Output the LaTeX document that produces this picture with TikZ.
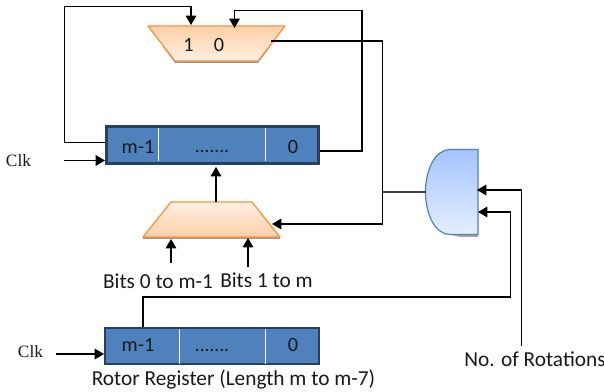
\documentclass[tikz,border=0pt]{standalone}
\usepackage{fontspec}
\setmainfont{Carlito}
\newfontfamily\clkfont{Liberation Serif}
\usetikzlibrary{arrows.meta}
\definecolor{regfill}{HTML}{4F81BD}
\definecolor{regedge}{HTML}{254061}
\definecolor{muxedge}{HTML}{F79646}
\definecolor{muxdark}{HTML}{FCCFA6}
\definecolor{muxlight}{HTML}{FFF0E3}
\definecolor{gateedge}{HTML}{4F81BD}
\definecolor{gatetop}{HTML}{A3C4FF}
\definecolor{gatebot}{HTML}{E5EEFF}
\tikzset{
 regbox/.style={draw=regedge,line width=2.2pt,fill=regfill,inner sep=0pt},
 muxshape/.style={draw=muxedge,line width=1pt,line join=round},
 wire/.style={draw=black,line width=0.8pt},
 arrowwire/.style={wire,-{Triangle[length=7pt,width=8pt]}},
 divider/.style={draw=white,line width=0.7pt},
 reglabel/.style={font=\fontsize{15.2}{17}\selectfont,inner sep=0pt,text=black!90},
 dotlabel/.style={font=\fontsize{14.5}{17}\selectfont,inner sep=0pt,text=black!90},
 caption/.style={font=\fontsize{16}{18}\selectfont,inner sep=0pt,text=black!90},
 clklabel/.style={font=\clkfont\fontsize{13}{15}\selectfont,inner sep=0pt,text=black!90},
}
\begin{document}
\begin{tikzpicture}[x=0.75pt,y=-0.75pt]
\useasboundingbox (0,0) rectangle (604,392);
% shadows
\fill[black!40] (175,63) -- (258,63) -- (270,47) -- (163,47) -- cycle;
\fill[black!40] (143,239) -- (280,239) -- (280,236) -- (143,236) -- cycle;
\fill[black!35] (431,190) .. controls (431,225) and (448,237) .. (462,237) -- (478,237) -- (478,200) -- cycle;
% multiplexers
\path[muxshape,top color=muxdark,bottom color=muxlight] (148,26) -- (285,26) -- (258,61) -- (175,61) -- cycle;
\path[muxshape,top color=muxlight,bottom color=muxdark] (171,202) -- (252,202) -- (280,237) -- (143,237) -- cycle;
\node[reglabel] (muxone) at (188.5,45) {1};
\node[reglabel] (muxzero) at (219,45) {0};
% registers
\node[regbox,minimum width=159.5pt,minimum height=28pt] (regmain) at (212.5,145.2) {};
\node[regbox,minimum width=160.5pt,minimum height=27pt] (regrotor) at (212,346) {};
\draw[divider] (158.5,128) -- (158.5,161);
\draw[divider] (265,128) -- (265,161);
\draw[divider] (179,329) -- (179,364);
\draw[divider] (265,329) -- (265,364);
\node[reglabel] (mainhigh) at (138,146.5) {m-1};
\node[dotlabel] (maindots) at (212,151.5) {.......};
\node[reglabel] (mainlow) at (293,146.5) {0};
\node[reglabel] (rotorhigh) at (138,345) {m-1};
\node[dotlabel] (rotordots) at (212,350.5) {.......};
\node[reglabel] (rotorlow) at (293,345) {0};
% gate
\path[draw=gateedge,line width=0.9pt,top color=gatetop,bottom color=gatebot]
  (478,149.5) -- (450,149.5) .. controls (435,149.5) and (425.5,170) .. (425.5,192)
  .. controls (425.5,214) and (435,234.5) .. (450,234.5) -- (478,234.5) -- cycle;
\coordinate (gatein) at (425.5,192);
\coordinate (gateupper) at (477,190);
\coordinate (gatelower) at (478,212);
% labels
\node[clklabel] (clkone) at (18.5,161) {Clk};
\node[clklabel] (clktwo) at (30.5,351.5) {Clk};
\node[caption] (bitslow) at (158,281) {Bits 0 to m-1};
\node[caption] (bitshigh) at (266.5,280) {Bits 1 to m};
\node[caption] (rotorname) at (233.5,380) {Rotor Register (Length m to m-7)};
\node[caption] (rotations) at (535,359) {No. of Rotations};
% ports
\coordinate (muxone-in) at (191,25);
\coordinate (muxzero-in) at (234.5,28);
\coordinate (muxout) at (271,41);
\coordinate (lowside) at (272,224);
\coordinate (lowtop) at (216,202);
\coordinate (lowina) at (171,239);
\coordinate (lowinb) at (248,238);
\coordinate (bitsa) at (171,263);
\coordinate (bitsb) at (248,267);
\coordinate (regout) at (320,151);
\coordinate (regfb) at (105,142.5);
\coordinate (regin) at (216,167);
\coordinate (clkonestart) at (64,160.5);
\coordinate (clkoneend) at (105,160.5);
\coordinate (clktwostart) at (56,354);
\coordinate (clktwoend) at (104,354);
\coordinate (rotorout) at (143,327);
\coordinate (rotstart) at (521.5,346);
% connectors
\draw[arrowwire] (regfb) -- (64.5,142.5) -- (64.5,6.5) -- (191,6.5) -- (muxone-in);
\draw[arrowwire] (regout) -- (362,151) -- (362,10.5) -- (234.5,10.5) -- (muxzero-in);
\draw[arrowwire] (muxout) -- (382.5,41) -- (382.5,224) -- (lowside);
\draw[wire,black!75] (382.5,192) -- (gatein);
\draw[arrowwire] (lowtop) -- (regin);
\draw[arrowwire] (bitsa) -- (lowina);
\draw[arrowwire] (bitsb) -- (lowinb);
\draw[arrowwire] (clkonestart) -- (clkoneend);
\draw[arrowwire] (clktwostart) -- (clktwoend);
\draw[arrowwire] (rotorout) -- (143,297) -- (510.5,297) -- (510.5,212) -- (gatelower);
\draw[arrowwire] (rotstart) -- (521.5,190) -- (gateupper);
\end{tikzpicture}
\end{document}
